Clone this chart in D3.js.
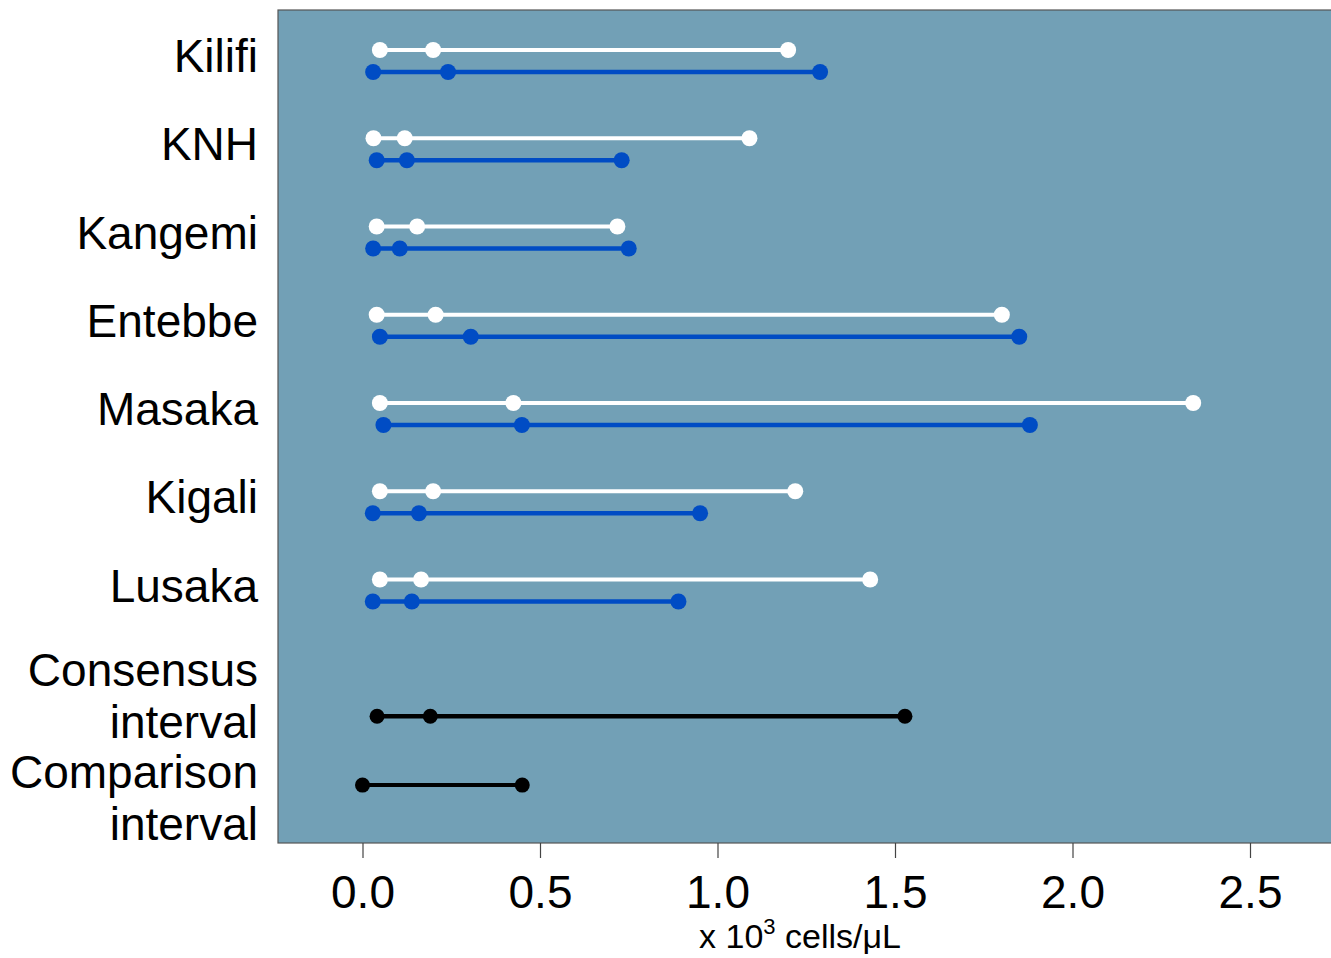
<!DOCTYPE html>
<html>
<head>
<meta charset="utf-8">
<script src="https://cdn.jsdelivr.net/npm/d3@7"></script>
<style>
  html, body { margin: 0; padding: 0; background: #fff; overflow: hidden; }
  svg { display: block; font-family: "Liberation Sans", Arial, sans-serif; }
</style>
</head>
<body>
<svg id="chart" width="1331" height="958"></svg>
<script>
// ---- data ----
const sites = ["Kilifi", "KNH", "Kangemi", "Entebbe", "Masaka", "Kigali", "Lusaka"];
// white series: [lower, median, upper] (x 10^3 cells/µL)
const whiteLow  = [0.049, 0.031, 0.040, 0.040, 0.049, 0.049, 0.049];
const whiteMid  = [0.199, 0.119, 0.154, 0.206, 0.425, 0.199, 0.165];
const whiteHigh = [1.199, 1.090, 0.718, 1.801, 2.340, 1.219, 1.430];
// blue series
const blueLow  = [0.030, 0.040, 0.030, 0.049, 0.059, 0.029, 0.029];
const blueMid  = [0.241, 0.125, 0.105, 0.305, 0.449, 0.159, 0.139];
const blueHigh = [1.289, 0.730, 0.750, 1.850, 1.880, 0.951, 0.890];
// consensus and comparison intervals
const consensus = [0.041, 0.191, 1.528];
const comparison = [0.000, 0.450];
const xTicks = [0.0, 0.5, 1.0, 1.5, 2.0, 2.5];
const xTitle = "x 10";
const xTitleSup = "3";
const xTitleRest = " cells/\u03bcL";

// ---- layout ----
const svg = d3.select("#chart");
const panel = {left: 278, top: 10, right: 1340, bottom: 843};
const x = d3.scaleLinear().domain([0, 2.5]).range([362.5, 1250]);
const yRow = d3.scaleLinear().domain([0, 6]).range([50, 579.5]);
const blueOffset = 22;
const yConsensus = yRow(7.55);
const yComparison = yRow(8.33);

const bg = "#72a0b6";
const blue = "#004cc4";

svg.append("rect")
  .attr("x", panel.left).attr("y", panel.top)
  .attr("width", panel.right - panel.left).attr("height", panel.bottom - panel.top)
  .attr("fill", bg).attr("stroke", "#555").attr("stroke-width", 1.2);

function drawInterval(vals, y, color, r, sw) {
  const g = svg.append("g");
  g.append("line")
    .attr("x1", x(d3.min(vals))).attr("x2", x(d3.max(vals)))
    .attr("y1", y).attr("y2", y)
    .attr("stroke", color).attr("stroke-width", sw);
  g.selectAll("circle").data(vals).join("circle")
    .attr("cx", d => x(d)).attr("cy", y).attr("r", r)
    .attr("fill", color);
}

sites.forEach((s, i) => {
  drawInterval([whiteLow[i], whiteMid[i], whiteHigh[i]], yRow(i), "#ffffff", 8, 4);
  drawInterval([blueLow[i], blueMid[i], blueHigh[i]], yRow(i) + blueOffset, blue, 8, 4.5);
});
drawInterval(consensus, yConsensus, "#000000", 7.5, 4.5);
drawInterval(comparison, yComparison, "#000000", 7.5, 4);

// y labels
const labelX = 258;
const labelSize = 46;
sites.forEach((s, i) => {
  svg.append("text")
    .attr("x", labelX).attr("y", yRow(i) + blueOffset)
    .attr("text-anchor", "end").attr("font-size", labelSize).attr("fill", "#000")
    .text(s);
});
[["Consensus", 686], ["interval", 738], ["Comparison", 788], ["interval", 840]].forEach(([t, yy]) => {
  svg.append("text")
    .attr("x", labelX).attr("y", yy)
    .attr("text-anchor", "end").attr("font-size", labelSize).attr("fill", "#000")
    .text(t);
});

// x axis
const axis = d3.axisBottom(x).tickValues(xTicks).tickFormat(d3.format(".1f"))
  .tickSize(15).tickPadding(17);
const ax = svg.append("g").attr("transform", `translate(0,${panel.bottom})`).call(axis);
ax.select(".domain").remove();
ax.selectAll(".tick line").attr("stroke", "#444").attr("stroke-width", 1.2);
ax.selectAll(".tick text").attr("font-size", 46).attr("fill", "#000")
  .attr("font-family", "Liberation Sans, Arial, sans-serif")
  .attr("dy", "0.71em");

const title = svg.append("text")
  .attr("x", 800).attr("y", 948)
  .attr("text-anchor", "middle").attr("font-size", 34).attr("fill", "#000");
title.append("tspan").text(xTitle);
title.append("tspan").attr("font-size", 22).attr("dy", -14).text(xTitleSup);
title.append("tspan").attr("dy", 14).text(xTitleRest);
</script>
</body>
</html>
